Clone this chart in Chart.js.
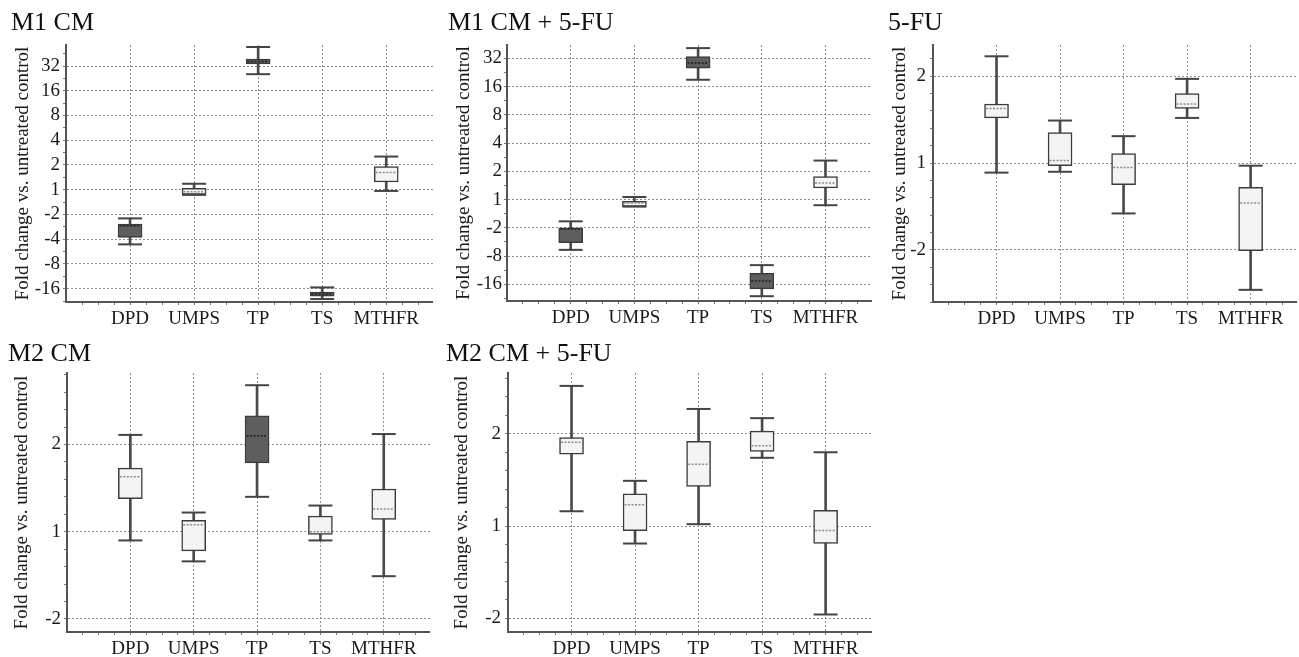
<!DOCTYPE html>
<html>
<head>
<meta charset="utf-8">
<title>Fold change box plots</title>
<script src="https://cdn.jsdelivr.net/npm/chart.js@4.4.1/dist/chart.umd.min.js"></script>
<style>
  body { margin: 0; background: #fff; width: 1299px; height: 657px; position: relative; overflow: hidden; }
  canvas { position: absolute; }
</style>
</head>
<body>
<canvas id="m1cm" width="422" height="327" style="left:11px;top:0px"></canvas>
<canvas id="m1cm5fu" width="424" height="326" style="left:448px;top:0px"></canvas>
<canvas id="fu" width="409" height="327" style="left:888px;top:0px"></canvas>
<canvas id="m2cm" width="422" height="327" style="left:8px;top:330px"></canvas>
<canvas id="m2cm5fu" width="426" height="327" style="left:446px;top:330px"></canvas>

<script>
// Genes on the x axis
const categories = ['DPD', 'UMPS', 'TP', 'TS', 'MTHFR'];

// Values are in axis steps (log2 fold change: 1 -> 0, 2 -> 1, -2 -> -1 ...)
// M1 CM
const m1cmLow    = [-2.21, -0.21, 4.67, -4.42, -0.05];
const m1cmQ1     = [-1.93, -0.19, 5.09, -4.30, 0.31];
const m1cmMedian = [-1.46, -0.08, 5.18, -4.22, 0.70];
const m1cmQ3     = [-1.39, 0.06, 5.28, -4.14, 0.93];
const m1cmHigh   = [-1.16, 0.24, 5.77, -3.95, 1.34];
const m1cmSig    = [true, false, true, true, false];
const m1cmTickLabels = ['-16', '-8', '-4', '-2', '1', '2', '4', '8', '16', '32'];

// M1 CM + 5-FU
const m1cm5fuLow    = [-1.78, -0.25, 4.24, -3.42, -0.20];
const m1cm5fuQ1     = [-1.53, -0.24, 4.65, -3.16, 0.41];
const m1cm5fuMedian = [-1.04, -0.12, 4.83, -2.88, 0.59];
const m1cm5fuQ3     = [-1.00, -0.06, 5.06, -2.61, 0.81];
const m1cm5fuHigh   = [-0.77, 0.09, 5.36, -2.32, 1.38];
const m1cm5fuSig    = [true, false, true, true, false];
const m1cm5fuTickLabels = ['-16', '-8', '-2', '1', '2', '4', '8', '16', '32'];

// 5-FU
const fuLow    = [-0.11, -0.10, -0.58, 0.52, -1.46];
const fuQ1     = [0.52, -0.03, -0.25, 0.63, -1.01];
const fuMedian = [0.63, 0.03, -0.05, 0.68, -0.46];
const fuQ3     = [0.68, 0.35, 0.11, 0.80, -0.28];
const fuHigh   = [1.23, 0.49, 0.31, 0.97, -0.03];
const fuSig    = [false, false, false, false, false];

// M2 CM
const m2cmLow    = [-0.10, -0.34, 0.40, -0.10, -0.51];
const m2cmQ1     = [0.38, -0.22, 0.79, -0.03, 0.14];
const m2cmMedian = [0.63, 0.08, 1.10, 0.00, 0.26];
const m2cmQ3     = [0.73, 0.13, 1.33, 0.18, 0.49];
const m2cmHigh   = [1.11, 0.22, 1.68, 0.30, 1.12];
const m2cmSig    = [false, false, true, false, false];

// M2 CM + 5-FU
const m2cm5fuLow    = [0.16, -0.19, 0.02, 0.74, -0.96];
const m2cm5fuQ1     = [0.78, -0.05, 0.43, 0.81, -0.19];
const m2cm5fuMedian = [0.91, 0.23, 0.67, 0.87, -0.05];
const m2cm5fuQ3     = [0.96, 0.35, 0.92, 1.03, 0.17];
const m2cm5fuHigh   = [1.52, 0.49, 1.27, 1.17, 0.80];
const m2cm5fuSig    = [false, false, false, false, false];

const smallTickLabels = ['-2', '1', '2'];

const FONT = "'Liberation Serif', 'Times New Roman', serif";
const DARK_FILL = '#5e5e5e';
const LIGHT_FILL = '#f4f4f4';
const LINE = '#3c3c3c';

// whisker caps and dotted median lines, drawn on top of the bars
const boxMarksPlugin = {
  id: 'boxMarks',
  afterDatasetsDraw(chart, args, opts) {
    const { ctx, scales: { x, y } } = chart;
    ctx.save();
    opts.median.forEach((m, i) => {
      const cx = x.getPixelForValue(i + 1);

      // caps
      ctx.setLineDash([]);
      ctx.lineWidth = 2;
      ctx.strokeStyle = '#444';
      [opts.low[i], opts.high[i]].forEach(v => {
        const py = y.getPixelForValue(v);
        ctx.beginPath();
        ctx.moveTo(cx - 12, py);
        ctx.lineTo(cx + 12, py);
        ctx.stroke();
      });

      // median
      const py = y.getPixelForValue(m);
      ctx.lineWidth = 1.5;
      ctx.setLineDash([2, 1.5]);
      ctx.strokeStyle = opts.sig[i] ? '#1e1e1e' : '#8c8c8c';
      ctx.beginPath();
      ctx.moveTo(cx - 10.5, py);
      ctx.lineTo(cx + 10.5, py);
      ctx.stroke();
    });
    ctx.restore();
  }
};

function createBoxChart(cfg) {
  const ctx = document.getElementById(cfg.canvasId);
  if (!ctx) return null;

  const xs = categories.map((c, i) => i + 1);

  const xTicks = [];
  for (let v = 0.25; v <= 5.5; v += 0.25) xTicks.push(+v.toFixed(2));
  const yTicks = [];
  const first = cfg.tickStart;
  const last = cfg.tickStart + cfg.tickLabels.length - 1;
  for (let v = Math.ceil(cfg.yMin / cfg.yMinor) * cfg.yMinor; v <= cfg.yMax; v += cfg.yMinor) {
    yTicks.push(+v.toFixed(2));
  }

  const isMajorY = v => Number.isInteger(v) && v >= first && v <= last;
  const isMajorX = v => Number.isInteger(v) && v >= 1 && v <= 5;

  return new Chart(ctx, {
    type: 'bar',
    data: {
      datasets: [
        {
          // whisker stems
          data: xs.map((xv, i) => ({ x: xv, y: [cfg.low[i], cfg.high[i]] })),
          backgroundColor: '#4a4a4a',
          borderWidth: 0,
          barThickness: 2,
          grouped: false,
          order: 3
        },
        {
          // boxes
          data: xs.map((xv, i) => ({ x: xv, y: [cfg.q1[i], cfg.q3[i]] })),
          backgroundColor: cfg.sig.map(s => s ? DARK_FILL : LIGHT_FILL),
          borderColor: LINE,
          borderWidth: 1.5,
          borderSkipped: false,
          barThickness: 24,
          grouped: false,
          order: 2
        }
      ]
    },
    options: {
      responsive: false,
      animation: false,
      devicePixelRatio: 1,
      layout: { padding: 0 },
      scales: {
        x: {
          type: 'linear',
          min: 0,
          max: 5.73,
          offset: false,
          afterBuildTicks: s => { s.ticks = xTicks.map(v => ({ value: v })); },
          afterFit: s => { s.height = 25; },
          border: { display: true, color: '#555', width: 2, dash: [2, 2] },
          grid: {
            offset: false,
            color: c => isMajorX(c.tick.value) ? '#8e8e8e' : 'rgba(0,0,0,0)',
            lineWidth: 1,
            drawTicks: true,
            tickLength: 3,
            tickColor: '#777',
            tickBorderDash: []
          },
          ticks: {
            autoSkip: false,
            maxRotation: 0,
            padding: 2.5,
            color: '#1a1a1a',
            font: { family: FONT, size: 19 },
            callback: v => isMajorX(v) ? categories[v - 1] : ''
          }
        },
        y: {
          type: 'linear',
          min: cfg.yMin,
          max: cfg.yMax,
          afterBuildTicks: s => { s.ticks = yTicks.map(v => ({ value: v })); },
          afterFit: s => { s.width = cfg.yAxisWidth; },
          border: { display: true, color: '#555', width: 2, dash: [2, 2] },
          grid: {
            color: c => isMajorY(c.tick.value) ? '#8e8e8e' : 'rgba(0,0,0,0)',
            lineWidth: 1,
            drawTicks: true,
            tickLength: 3,
            tickColor: '#777',
            tickBorderDash: []
          },
          ticks: {
            autoSkip: false,
            padding: cfg.tickPad,
            color: '#1a1a1a',
            font: { family: FONT, size: 19 },
            callback: v => isMajorY(v) ? cfg.tickLabels[v - first] : ''
          },
          title: {
            display: true,
            text: 'Fold change vs. untreated control',
            color: '#1a1a1a',
            font: { family: FONT, size: 19 },
            padding: { top: cfg.yTitlePad, bottom: 0 }
          }
        }
      },
      plugins: {
        legend: { display: false },
        tooltip: { enabled: false },
        title: {
          display: true,
          text: cfg.title,
          align: 'start',
          color: '#111',
          font: { family: FONT, size: 26, weight: 'normal' },
          padding: cfg.titlePad
        },
        boxMarks: { low: cfg.low, high: cfg.high, median: cfg.median, sig: cfg.sig }
      }
    },
    plugins: [boxMarksPlugin]
  });
}

createBoxChart({
  canvasId: 'm1cm', title: 'M1 CM',
  low: m1cmLow, q1: m1cmQ1, median: m1cmMedian, q3: m1cmQ3, high: m1cmHigh, sig: m1cmSig,
  yMin: -4.54, yMax: 5.85, yMinor: 0.5, tickStart: -4, tickLabels: m1cmTickLabels,
  yAxisWidth: 55, yTitlePad: 1, tickPad: 3, titlePad: { top: 7.5, bottom: 6.3 }
});

createBoxChart({
  canvasId: 'm1cm5fu', title: 'M1 CM + 5-FU',
  low: m1cm5fuLow, q1: m1cm5fuQ1, median: m1cm5fuMedian, q3: m1cm5fuQ3, high: m1cm5fuHigh, sig: m1cm5fuSig,
  yMin: -3.59, yMax: 5.47, yMinor: 0.5, tickStart: -3, tickLabels: m1cm5fuTickLabels,
  yAxisWidth: 59, yTitlePad: 4.5, tickPad: 2, titlePad: { top: 7.5, bottom: 6.3 }
});

createBoxChart({
  canvasId: 'fu', title: '5-FU',
  low: fuLow, q1: fuQ1, median: fuMedian, q3: fuQ3, high: fuHigh, sig: fuSig,
  yMin: -1.60, yMax: 1.36, yMinor: 0.2, tickStart: -1, tickLabels: smallTickLabels,
  yAxisWidth: 45, yTitlePad: 1, tickPad: 4, titlePad: { top: 7.5, bottom: 6.3 }
});

createBoxChart({
  canvasId: 'm2cm', title: 'M2 CM',
  low: m2cmLow, q1: m2cmQ1, median: m2cmMedian, q3: m2cmQ3, high: m2cmHigh, sig: m2cmSig,
  yMin: -1.15, yMax: 1.82, yMinor: 0.2, tickStart: -1, tickLabels: smallTickLabels,
  yAxisWidth: 59, yTitlePad: 2.5, tickPad: 3, titlePad: { top: 8.5, bottom: 3.3 }
});

createBoxChart({
  canvasId: 'm2cm5fu', title: 'M2 CM + 5-FU',
  low: m2cm5fuLow, q1: m2cm5fuQ1, median: m2cm5fuMedian, q3: m2cm5fuQ3, high: m2cm5fuHigh, sig: m2cm5fuSig,
  yMin: -1.15, yMax: 1.66, yMinor: 0.2, tickStart: -1, tickLabels: smallTickLabels,
  yAxisWidth: 62, yTitlePad: 4.5, tickPad: 4, titlePad: { top: 8.5, bottom: 3.3 }
});
</script>
</body>
</html>
